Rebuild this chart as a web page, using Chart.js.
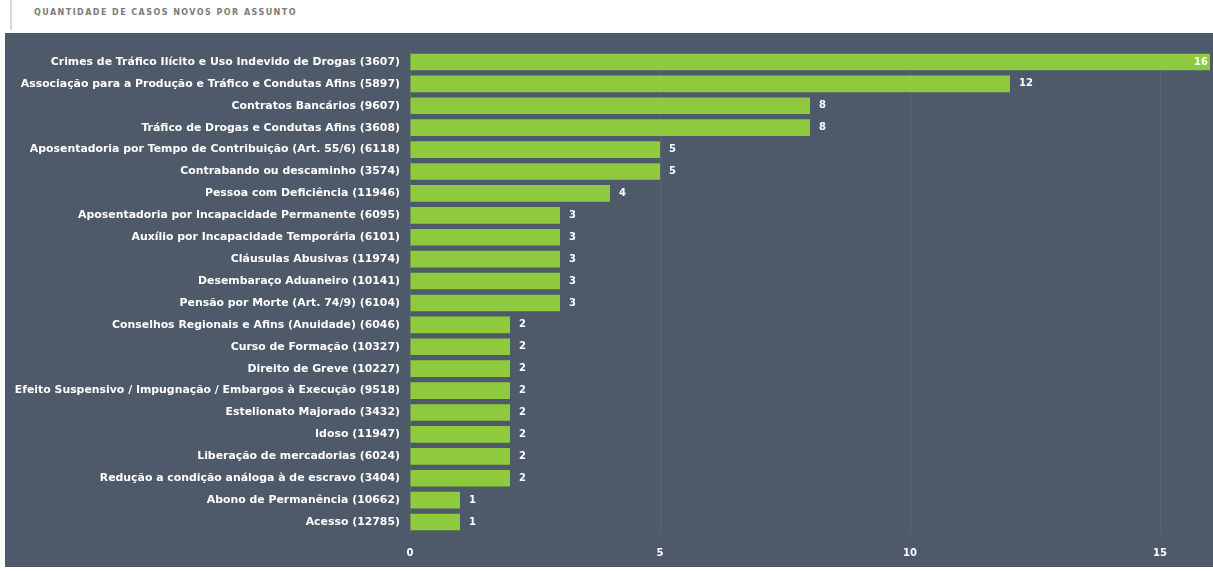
<!DOCTYPE html>
<html lang="pt">
<head>
<meta charset="UTF-8">
<title>Quantidade de casos novos por assunto</title>
<script src="https://cdn.jsdelivr.net/npm/chart.js"></script>
<style>
    body {
        margin: 0;
        background: #ffffff;
        font-family: "DejaVu Sans", Arial, sans-serif;
    }
    .header {
        position: absolute;
        left: 10px;
        top: 0;
        height: 30px;
        border-left: 2px solid #d8d8d8;
        padding-left: 22px;
    }
    .header span {
        display: block;
        margin-top: 8px;
        font-size: 8px;
        letter-spacing: 1.45px;
        color: #7a7a7a;
        font-weight: bold;
    }
    .panel {
        position: absolute;
        left: 5px;
        top: 33px;
        width: 1208px;
        height: 534px;
        background: #4e5a6a;
    }
</style>
</head>
<body>
<div class="header"><span>QUANTIDADE DE CASOS NOVOS POR ASSUNTO</span></div>
<div class="panel"><canvas id="assuntos"></canvas></div>

<script>
    const assuntos = [
        'Crimes de Tráfico Ilícito e Uso Indevido de Drogas (3607)',
        'Associação para a Produção e Tráfico e Condutas Afins (5897)',
        'Contratos Bancários (9607)',
        'Tráfico de Drogas e Condutas Afins (3608)',
        'Aposentadoria por Tempo de Contribuição (Art. 55/6) (6118)',
        'Contrabando ou descaminho (3574)',
        'Pessoa com Deficiência (11946)',
        'Aposentadoria por Incapacidade Permanente (6095)',
        'Auxílio por Incapacidade Temporária (6101)',
        'Cláusulas Abusivas (11974)',
        'Desembaraço Aduaneiro (10141)',
        'Pensão por Morte (Art. 74/9) (6104)',
        'Conselhos Regionais e Afins (Anuidade) (6046)',
        'Curso de Formação (10327)',
        'Direito de Greve (10227)',
        'Efeito Suspensivo / Impugnação / Embargos à Execução (9518)',
        'Estelionato Majorado (3432)',
        'Idoso (11947)',
        'Liberação de mercadorias (6024)',
        'Redução a condição análoga à de escravo (3404)',
        'Abono de Permanência (10662)',
        'Acesso (12785)'
    ];
    const casosNovos = [16, 12, 8, 8, 5, 5, 4, 3, 3, 3, 3, 3, 2, 2, 2, 2, 2, 2, 2, 2, 1, 1];
    const xTicks = [0, 5, 10, 15];

    const fonte = '"DejaVu Sans", Arial, sans-serif';

    // valor ao lado de cada barra (dentro dela se nao couber)
    const valueLabels = {
        id: 'valueLabels',
        afterDatasetsDraw(chart) {
            const c = chart.ctx;
            const meta = chart.getDatasetMeta(0);
            c.save();
            c.font = 'bold 10px ' + fonte;
            c.fillStyle = '#ffffff';
            c.textBaseline = 'middle';
            meta.data.forEach((bar, i) => {
                const txt = String(casosNovos[i]);
                const w = c.measureText(txt).width;
                if (bar.x + 8 + w > chart.chartArea.right) {
                    c.textAlign = 'right';
                    c.fillText(txt, bar.x - 2, bar.y);
                } else {
                    c.textAlign = 'left';
                    c.fillText(txt, bar.x + 9, bar.y);
                }
            });
            c.restore();
        }
    };

    new Chart(document.getElementById('assuntos'), {
        type: 'bar',
        data: {
            labels: assuntos,
            datasets: [{
                data: casosNovos,
                backgroundColor: '#8fc93d',
                categoryPercentage: 0.76,
                barPercentage: 1
            }]
        },
        options: {
            indexAxis: 'y',
            responsive: true,
            maintainAspectRatio: false,
            animation: false,
            layout: { padding: { top: 18, right: 3, bottom: 0, left: 0 } },
            plugins: {
                legend: { display: false },
                tooltip: { enabled: false }
            },
            scales: {
                x: {
                    min: 0,
                    max: 16,
                    afterBuildTicks: s => { s.ticks = xTicks.map(v => ({ value: v })); },
                    afterFit: s => { s.height = 34; },
                    grid: { color: 'rgba(255,255,255,0.08)', drawTicks: false },
                    border: { display: false },
                    ticks: {
                        color: '#ffffff',
                        padding: 14,
                        font: { family: fonte, size: 10, weight: 'bold' }
                    }
                },
                y: {
                    afterFit: s => { s.width = 405; },
                    grid: { display: false },
                    border: { display: false },
                    ticks: {
                        color: '#ffffff',
                        padding: 2,
                        autoSkip: false,
                        font: { family: fonte, size: 10.9, weight: 'bold' }
                    }
                }
            }
        },
        plugins: [valueLabels]
    });
</script>
</body>
</html>
